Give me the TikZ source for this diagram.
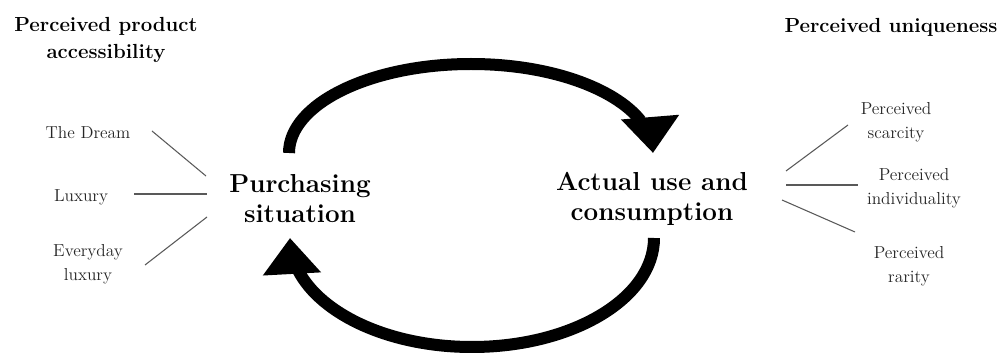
\documentclass[tikz,border=0pt]{standalone}
\usetikzlibrary{arrows.meta,bending}
\begin{document}
\begin{tikzpicture}[x=0.75pt,y=-0.75pt,
   head/.style={font=\fontsize{15.3}{20}\selectfont\bfseries,align=center},
   stage/.style={font=\fontsize{19.5}{22.5}\selectfont\bfseries,align=center},
   item/.style={font=\fontsize{13}{18}\selectfont,text=black!85,align=center},
   spoke/.style={draw=black!65,line width=0.8pt},
   loopArrow/.style={line width=9pt,-{Triangle[width=42pt,length=27pt,flex=0.2]}}]
   \useasboundingbox (0,0) rectangle (1008,356);
% headings
   \node[head] (access) at (106,40) {Perceived product\\accessibility};
   \node[head] (unique) at (891,27) {Perceived uniqueness};
% the two stages
   \node[stage] (purchase) at (300,199) {Purchasing\\situation};
   \node[stage] (consume)  at (652,199) {Actual use and\\consumption};
% accessibility levels
   \node[item] (dream)    at (88,133) {The Dream};
   \node[item] (luxury)   at (81,197) {Luxury};
   \node[item] (everyday) at (88,264) {Everyday\\luxury};
% uniqueness aspects
   \node[item] (scarcity) at (896,122) {Perceived\\scarcity};
   \node[item] (individ)  at (914,188) {Perceived\\individuality};
   \node[item] (rarity)   at (909,266) {Perceived\\rarity};
% spoke ends
   \coordinate (d1) at (152,131);  \coordinate (d2) at (206,176);
   \coordinate (l1) at (134,194);  \coordinate (l2) at (207,194);
   \coordinate (e1) at (145,265);  \coordinate (e2) at (207,217);
   \coordinate (s1) at (786,171);  \coordinate (s2) at (848,125);
   \coordinate (i1) at (786,185);  \coordinate (i2) at (858,185);
   \coordinate (r1) at (782,200);  \coordinate (r2) at (855,232);
   \draw[spoke] (d1)--(d2);
   \draw[spoke] (l1)--(l2);
   \draw[spoke] (e1)--(e2);
   \draw[spoke] (s1)--(s2);
   \draw[spoke] (i1)--(i2);
   \draw[spoke] (r1)--(r2);
% the cycle
   \coordinate (purchase-n) at (289,153);
   \coordinate (consume-s)  at (654,238);
   \draw[loopArrow] (purchase-n) arc[start angle=180,end angle=360,x radius=182,y radius=89];
   \draw[loopArrow] (consume-s) arc[start angle=0,end angle=180,x radius=182,y radius=109];
\end{tikzpicture}
\end{document}
